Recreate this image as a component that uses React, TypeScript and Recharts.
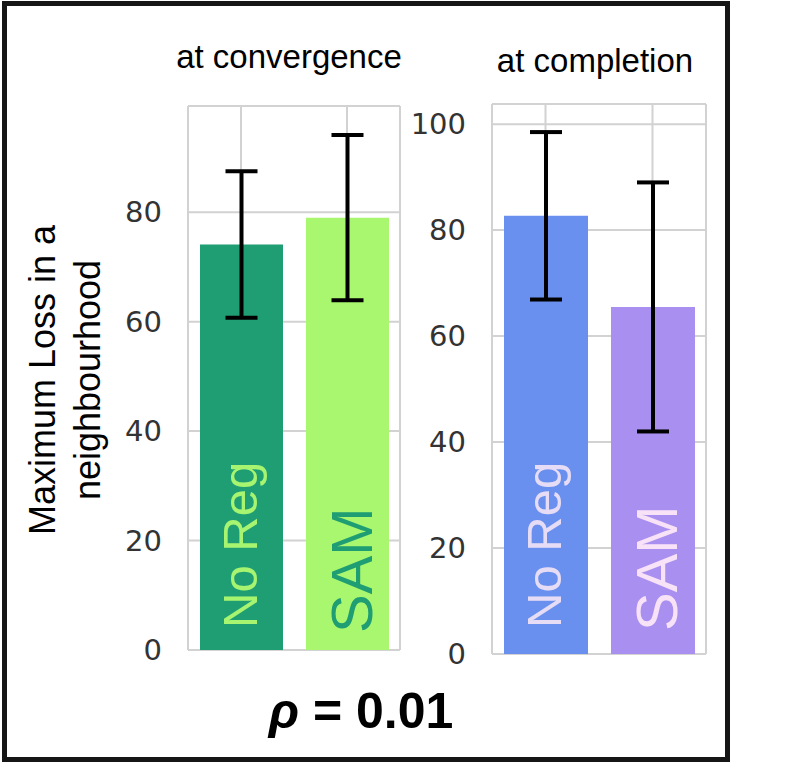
import { Bar, BarChart, CartesianGrid, Cell, ErrorBar, LabelList, XAxis, YAxis } from "recharts";

const methods = ["No Reg", "SAM"];
const convergenceLoss = [74.1, 79.0];
const convergenceErr = [13.4, 15.1];
const completionLoss = [82.7, 65.5];
const completionErr = [15.8, 23.5];
const convergenceTicks = [0, 20, 40, 60, 80];
const completionTicks = [0, 20, 40, 60, 80, 100];
const convergenceMax = 99.4;
const completionMax = 103.8;

const SANS = "'Liberation Sans', Arial, sans-serif";
const TICK_FONT = "'DejaVu Sans', sans-serif";

type PanelProps = {
  loss: number[];
  err: number[];
  ticks: number[];
  max: number;
  fills: string[];
  textFills: string[];
  left: number;
  top: number;
  width: number;
  height: number;
  margin: { top: number; right: number; bottom: number; left: number };
  barSize: number;
  lift: number[];
};

// rotated label sitting at the foot of each bar
function makeLabel(textFills: string[], lift: number[]) {
  return (props: any) => {
    const vb = props.viewBox ?? props;
    const i = methods.indexOf(props.value);
    const cx = vb.x + vb.width / 2;
    const bottom = vb.y + vb.height;
    const big = props.value === "SAM";
    return (
      <text
        transform={`translate(${cx + (big ? 24 : 15)}, ${bottom - lift[i]}) rotate(-90)`}
        fill={textFills[i]}
        fontSize={big ? 58 : 49}
        fontFamily={SANS}
      >
        {props.value}
      </text>
    );
  };
}

function Panel(p: PanelProps) {
  const data = methods.map((name, i) => ({ name, loss: p.loss[i], err: p.err[i] }));
  return (
    <div style={{ position: "absolute", left: p.left, top: p.top }}>
      <BarChart width={p.width} height={p.height} data={data} margin={p.margin}>
        <CartesianGrid stroke="#d2d2d2" strokeWidth={2} />
        <XAxis dataKey="name" hide />
        <YAxis
          width={88}
          domain={[0, p.max]}
          ticks={p.ticks}
          interval={0}
          allowDataOverflow
          axisLine={false}
          tickLine={false}
          tickSize={0}
          tickMargin={26}
          tick={{ fontSize: 29, fill: "#333", fontFamily: TICK_FONT }}
        />
        <Bar dataKey="loss" barSize={p.barSize} isAnimationActive={false}>
          {data.map((d, i) => (
            <Cell key={d.name} fill={p.fills[i]} />
          ))}
          <LabelList dataKey="name" content={makeLabel(p.textFills, p.lift)} />
          <ErrorBar dataKey="err" width={16} stroke="#000" strokeWidth={4} direction="y" isAnimationActive={false} />
        </Bar>
      </BarChart>
    </div>
  );
}

export default function App() {
  return (
    <div style={{ position: "absolute", left: 0, top: 0, width: 791, height: 772, background: "#fff" }}>
      <div
        style={{
          position: "absolute",
          left: 2,
          top: 1,
          width: 728,
          height: 761,
          border: "5px solid #161616",
          boxSizing: "border-box",
        }}
      />
      <Panel
        loss={convergenceLoss}
        err={convergenceErr}
        ticks={convergenceTicks}
        max={convergenceMax}
        fills={["#1f9e74", "#a9f76f"]}
        textFills={["#a6f46f", "#1f9e74"]}
        left={100}
        top={90}
        width={310}
        height={590}
        margin={{ top: 16, right: 10, bottom: 30, left: 0 }}
        barSize={83}
        lift={[22, 17]}
      />
      <Panel
        loss={completionLoss}
        err={completionErr}
        ticks={completionTicks}
        max={completionMax}
        fills={["#6990ee", "#a98ff0"]}
        textFills={["#e6dcf5", "#f7e2f7"]}
        left={404}
        top={88}
        width={312}
        height={596}
        margin={{ top: 16, right: 10, bottom: 30, left: 0 }}
        barSize={84}
        lift={[26, 23]}
      />
      <svg width={791} height={772} style={{ position: "absolute", left: 0, top: 0, pointerEvents: "none" }}>
        <text x={289} y={68} textAnchor="middle" fontSize={33} fontFamily={SANS} fill="#000">
          at convergence
        </text>
        <text x={595} y={72} textAnchor="middle" fontSize={33} fontFamily={SANS} fill="#000">
          at completion
        </text>
        <text transform="translate(55, 380) rotate(-90)" textAnchor="middle" fontSize={36} fontFamily={SANS} fill="#000">
          Maximum Loss in a
        </text>
        <text transform="translate(100, 380) rotate(-90)" textAnchor="middle" fontSize={36} fontFamily={SANS} fill="#000">
          neighbourhood
        </text>
        <text x={361} y={728} textAnchor="middle" fontSize={50} fontWeight="bold" fontFamily={SANS} fill="#000">
          <tspan fontStyle="italic">ρ</tspan> = 0.01
        </text>
      </svg>
    </div>
  );
}
